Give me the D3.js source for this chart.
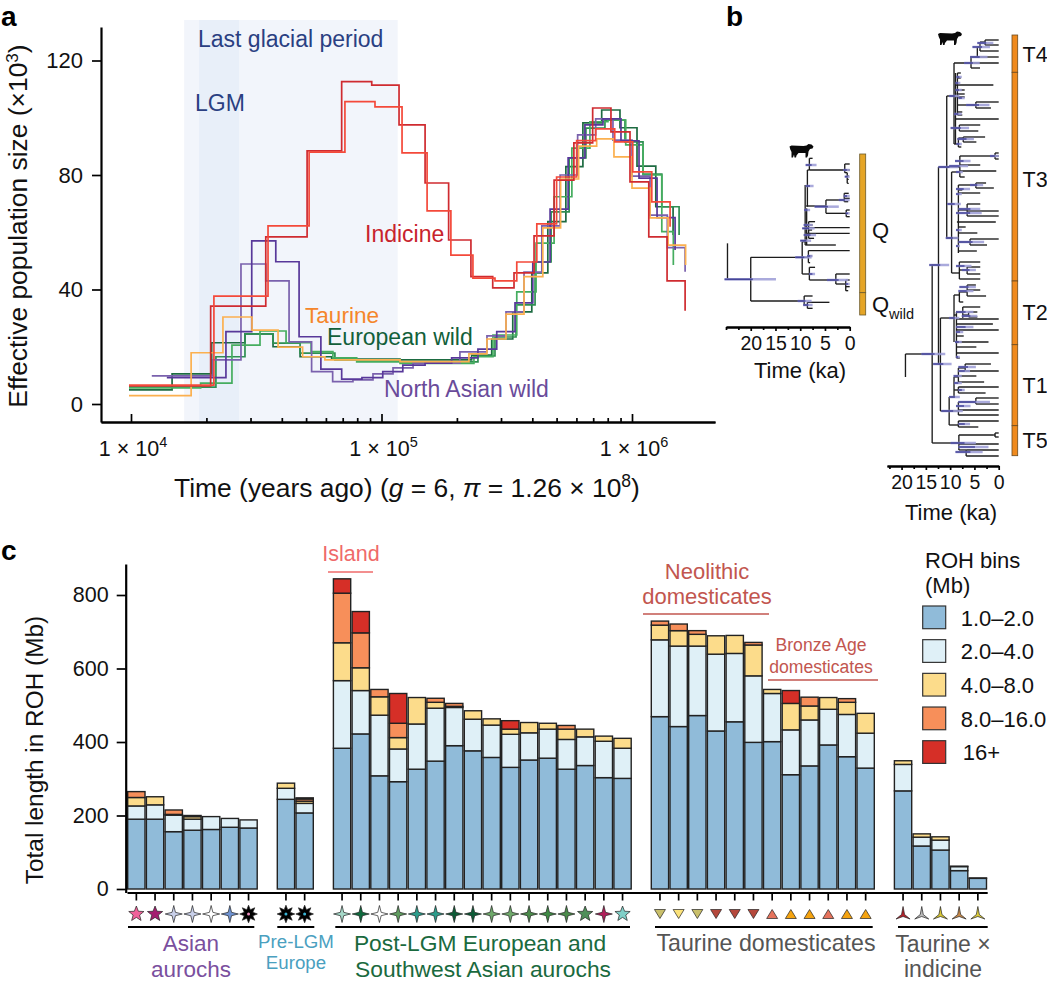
<!DOCTYPE html>
<html>
<head>
<meta charset="utf-8">
<script src="https://d3js.org/d3.v7.min.js"></script>
<style>
  html, body { margin: 0; padding: 0; background: #fff; }
  svg { display: block; }
  text { font-family: "Liberation Sans", Arial, sans-serif; fill: #111; }
</style>
</head>
<body>
<svg id="chart" width="1047" height="981"></svg>
<script>
// -------------------------------
// Panel a data: log10(years ago) and Ne (x 10^3) for each PSMC curve
// -------------------------------
const indicineDarkT = [3.992,4.318,4.538,4.703,4.841,4.961,5.070,5.174,5.268,5.357,5.444,5.529,5.609,5.689,5.768,5.843,5.916,5.992,6.067,6.140,6.212];
const indicineDarkNe = [6.3,34.2,58.4,88.4,112.6,111.4,97.5,77.2,57.3,44.5,40.6,45.8,58.7,78.2,91.2,103.4,95.1,77.6,58.4,43.0,32.6];
const indicineLightT = [3.992,4.331,4.547,4.711,4.854,4.974,5.082,5.182,5.277,5.365,5.453,5.540,5.620,5.699,5.779,5.855,5.931,6.003,6.079,6.152];
const indicineLightNe = [6.6,37.7,62.2,88.0,105.6,103.8,87.7,67.5,52.0,44.0,43.0,49.6,62.9,79.3,92.0,96.1,91.6,81.1,70.6,61.9];
const taurineT = [3.992,4.240,4.367,4.483,4.587,4.685,4.774,5.074,5.273,5.349,5.421,5.497,5.569,5.644,5.715,5.787,5.859,5.928,6.000,6.072,6.144,6.214];
const taurineNe = [2.9,17.9,30.4,25.8,19.9,16.5,15.4,14.8,14.8,17.5,22.7,31.4,44.5,61.5,78.6,90.1,92.6,86.3,75.4,65.0,55.5,48.6];
const euroDarkT = [3.992,4.164,4.322,4.455,4.567,4.675,4.801,5.074,5.360,5.440,5.524,5.600,5.664,5.736,5.804,5.879,5.952,6.020,6.095,6.164];
const euroDarkNe = [4.9,10.5,21.4,24.5,20.0,16.5,15.7,15.4,17.1,22.7,32.2,45.8,63.7,82.9,98.2,102.7,96.5,83.1,68.9,59.0];
const euroMidT = [3.992,4.339,4.455,4.567,4.675,4.814,5.074,5.385,5.453,5.537,5.613,5.677,5.749,5.816,5.892,5.972,6.044,6.119,6.188];
const euroMidNe = [5.9,16.5,24.5,21.3,17.8,15.4,14.7,16.8,23.4,34.6,49.6,67.1,86.0,96.4,99.2,91.6,80.3,68.9,59.0];
const euroLightT = [3.992,4.278,4.403,4.515,4.619,4.719,4.806,4.901,5.074,5.369,5.445,5.540,5.617,5.689,5.760,5.832,5.904,5.975,6.044,6.119,6.165];
const euroLightNe = [5.6,7.3,20.6,25.5,21.4,18.3,16.1,14.7,14.2,16.5,24.1,39.2,56.2,72.4,89.4,98.6,99.2,90.5,80.0,60.2,48.6];
const asianDarkT = [4.143,4.379,4.482,4.578,4.671,4.758,4.841,4.922,5.005,5.085,5.174,5.280,5.385,5.460,5.533,5.604,5.673,5.745,5.812,5.884,5.956,6.028,6.100,6.172];
const asianDarkNe = [9.2,25.3,57.0,49.7,23.5,12.2,8.7,9.2,11.3,13.6,14.3,16.1,19.2,25.3,35.3,49.6,68.1,86.0,97.5,99.6,91.9,78.9,65.1,53.8];
const asianLightT = [4.083,4.327,4.439,4.538,4.631,4.721,4.805,4.886,4.966,5.046,5.126,5.313,5.421,5.497,5.569,5.640,5.713,5.783,5.855,5.924,6.000,6.072,6.141,6.212];
const asianLightNe = [9.8,15.4,48.9,43.0,21.7,11.3,7.8,8.4,10.5,12.6,14.3,18.2,23.8,32.2,46.1,62.2,80.0,94.0,99.6,92.2,79.6,66.0,54.6,46.2];

const psmcCurves = [
  { t: euroDarkT, ne: euroDarkNe, color: "#1d6b41" },
  { t: euroMidT, ne: euroMidNe, color: "#2f8f52" },
  { t: euroLightT, ne: euroLightNe, color: "#45ad5f" },
  { t: asianLightT, ne: asianLightNe, color: "#7a61ad" },
  { t: asianDarkT, ne: asianDarkNe, color: "#58389a" },
  { t: taurineT, ne: taurineNe, color: "#fbb04f" },
  { t: indicineDarkT, ne: indicineDarkNe, color: "#cf2b30" },
  { t: indicineLightT, ne: indicineLightNe, color: "#f4493a" },
];
const lastGlacial = [16300, 116000];
const lgm = [18700, 27000];
const neTicks = [0, 40, 80, 120];

// -------------------------------
// Panel b data: [fromKa, toKa, row] branches, [ka, row0, row1] joins, [hiKa, loKa, row] CI bars
// -------------------------------
const treeQBranches = [
  [24.7,20,448],[20,9.6,382],[20,9.2,513],[9.2,7.5,498],[9.2,8.55,525],[8.55,4.1,517],[8.55,7.5,535],
  [9.6,8.7,335],[9.6,8.15,432],[8.15,7,412],[8.15,2.8,450],[2.8,0,432],[2.8,0.8,462],[0.8,0,450],[0.8,0,470],[0.8,0.3,482],
  [9.6,8.35,382],[8.35,0,362],[8.35,7.6,378],[8.35,8,398],
  [9,2.8,345],[8.7,0,293],[8.7,0,310],[8.3,7,275],[8.3,7.5,285],[8.3,7.2,325],[8.3,7.6,300],
  [8.55,8.15,120],[8.15,7.5,85],[8.15,1,120],[1,0,102],[1,0,120],[1,0.5,128],[0.5,0.2,138],[0.5,0.2,148],[0.5,0.2,160],
  [8.8,4.8,228],[4.8,1.1,210],[1.1,0.2,190],[1.1,0,205],[1.1,0.3,215],[4.8,0.7,250],[0.7,0,240],[0.7,0,260],
];
const treeQJoins = [
  [24.7,340,448],[20,382,513],[9.2,498,525],[8.55,517,535],[9.6,335,432],[8.15,412,450],[2.8,432,462],[0.8,450,482],
  [8.35,362,398],[9,165,345],[8.7,235,345],[8.3,275,325],[8.55,120,230],[8.15,85,120],[1,102,128],[0.5,128,160],
  [4.8,210,250],[1.1,190,215],[0.7,240,260],
];
const treeQCi = [
  [25.3,14.9,448],[11,7.7,382],[10.5,7.7,513],[8.9,6.7,105],[8.9,7.3,168],[9.2,8,240],[7.1,2.2,230],[2.2,0,210],
  [1.3,0,120],[9.6,7.1,295],[9.3,7.5,285],[9.3,6.8,315],[10,7.8,332],[8.6,7.5,378],[8.2,7,432],[4.6,0.3,450],
  [9.4,7.5,525],[0.8,0,250],[0.8,0,462],[1,0,140],[1.2,0,198],
];
const treeTBranches = [
  [19.2,13.7,334],[13.7,12.4,245],[12.4,12,344],[12.4,10.7,147],[10.7,9.2,76],
  [9.2,0,43],[5.7,4.4,37],[5.7,3.85,48],[4.4,0,37],[4.4,3.85,27],[3.85,0,31],[3.85,2.8,22],[2.8,0,20],[2.8,0,25],
  [8.5,7.8,53],[8.5,7.8,58],[8.9,1.1,65],[8.7,7,70],[8.7,7,74],[8.7,7,77],[4.7,0,82],[4.7,1.6,88],[8.5,4.7,85],
  [8.5,7.5,92],[8.5,7.5,95],[8.9,0,99],[8.9,8.1,108],[8.1,3.8,105],[8.1,4.2,111],
  [9.2,8.3,124],[8.3,7.3,118],[7.3,2.8,117],[7.3,4.6,122],[8.3,7.7,127],
  [10.7,8,147],[8,1.7,136],[1.7,0.75,136],[0.75,0,133],[0.75,0,136],[0.75,0,139],[8,3.8,145],[8,0.5,151],[8,7,157],
  [10.7,8.3,218],[9.7,8.3,152],
  [8.3,4.7,165],[4.7,2.6,163],[4.7,1,168],[8.3,7.5,170],[8.3,3.8,173],[8.3,6.5,190],[6.5,3.8,184],[6.5,0,191],[6.5,0,196],
  [8.6,0.6,202],[8.3,6.8,207],[8.3,4.4,213],[8.3,5.9,222],[5.9,0,219],[5.9,2.4,225],[8.3,4.5,231],
  [9.7,8.1,253],[8.1,3.8,242],[8.1,6.5,250],[6.5,3.8,247],[6.5,3.8,254],[8.1,3.8,259],
  [12,9.2,298],[9.2,8.1,275],[8.1,6.5,272],[6.5,4.7,265],[6.5,3.8,270],[6.5,2.6,276],[8.1,7.3,282],
  [9.2,8.7,295],[8.7,7.4,292],[7.4,3.8,287],[7.4,6.2,295],[6.2,4.4,292],[6.2,4.4,297],[8.7,0,299],
  [8.7,1.2,304],[8.7,0,310],[8.7,7.2,316],[8.7,2.1,322],[8.7,4.6,327],[8.7,0,333],[8.7,8,338],
  [12,10.2,391],[10.2,9.2,377],[9.2,8.3,357],[8.3,6.9,348],[6.9,1.6,344],[6.9,0,351],[8.3,4.6,356],[8.3,3,362],
  [9.2,8.3,370],[8.3,0,367],[8.3,2.7,373],
  [10.2,8.3,391],[8.3,4.7,382],[4.7,0,378],[4.7,0,384],[8.3,0,390],[8.3,0,395],[8.3,0,401],[10.2,8.3,405],[8.3,4.2,407],
  [13.7,8.2,423],[8.2,1,415],[1,0.75,415],[0.75,0,413],[0.75,0,417],[8.2,0,424],[8.2,6.7,430],[6.7,0,430],[6.7,0,436],
];
const treeTJoins = [
  [19.2,334,357],[13.7,245,423],[12.4,147,344],[12,298,391],[10.7,76,218],[9.2,43,124],[5.7,37,48],[4.4,27,37],
  [3.85,22,31],[2.8,20,25],[8.9,53,124],[8.5,53,95],[4.7,82,88],[8.1,105,111],[8.3,118,127],[7.3,117,122],
  [8,136,157],[0.75,133,139],[9.7,152,253],[8.3,165,233],[4.7,163,168],[6.5,184,196],[5.9,219,225],
  [8.1,242,259],[6.5,247,254],[9.2,275,322],[8.1,272,282],[6.5,265,276],[8.7,292,338],[7.4,287,298],[6.2,292,297],
  [10.2,377,405],[9.2,357,377],[8.3,348,362],[6.9,344,351],[8.3,367,373],[8.3,382,395],[4.7,378,384],[8.3,401,407],
  [8.2,415,430],[0.75,413,417],[6.7,430,436],
];
const treeTCi = [
  [15.9,11,334],[13.5,9.7,344],[12.4,8.3,147],[10.2,8.1,76],[10.9,8.3,218],[7.1,3.9,43],[14.3,10.2,245],
  [9.9,4.7,423],[8.3,2.1,427],[8.9,3.3,432],[4.4,1.1,23],[5.4,1.8,27],[5.9,2.3,37],[8.7,7.6,57],[8.9,7.9,63],
  [8.9,7.6,70],[8.3,7,78],[6.7,1.9,85],[9.2,7.6,94],[9.9,6.1,108],[8.5,5.1,119],[8.7,7.6,124],[1.8,0,136],
  [9,5.8,141],[10.2,6.3,146],[8.8,7.4,152],[5.9,3.2,165],[8.8,5.9,169],[8.8,7.6,174],[10.6,7.8,184],[8.3,3.8,189],
  [8.8,3.5,193],[8.8,7.6,210],[8.3,3,222],[8.8,8,226],[8.8,5.6,246],[7.6,4.7,250],[8.1,4.7,267],[8.3,5.2,271],
  [8.8,5.2,292],[7.6,4.4,296],[10.2,8.1,298],[8.8,5.2,307],[8.8,7.3,312],[9,7.6,322],[8.8,8,337],[8.3,4.7,347],
  [8.3,5.9,351],[9.3,7.6,356],[9.2,7.6,363],[8.3,7,370],[10.2,8,377],[8.3,1.8,382],[8.8,5.8,386],[11.8,7.4,391],[8.3,5.9,404],
];
const kaTicks = [0, 5, 10, 15, 20];
const kaMinorTicks = [2.5, 7.5, 12.5, 17.5, 22.5, 25];

// -------------------------------
// Panel c data: one entry per bar, Mb of ROH in each length bin
// -------------------------------
const sampleSlots = [0,1,2,3,4,5,6,8,9,11,12,13,14,15,16,17,18,19,20,21,22,23,24,25,26,28,29,30,31,32,33,34,35,36,37,38,39,41,42,43,44,45];
const roh1to2 = [190,190,156,160,162,168,166,244,207,383,422,308,292,326,348,390,376,358,331,351,356,326,336,303,301,469,442,472,430,455,399,401,311,335,392,360,329,267,117,106,50,29];
const roh2to4 = [36,39,45,30,35,24,22,30,26,184,118,165,89,123,144,104,86,88,90,74,79,81,78,99,82,209,219,189,209,186,181,131,122,125,97,115,95,72,24,27,11,1];
const roh4to8 = [23,22,2,7,0,0,0,14,6,103,62,50,31,72,16,3,23,17,14,28,16,28,21,14,27,40,42,32,50,49,84,11,72,38,32,33,54,10,9,9,1,0];
const roh8to16 = [16,0,12,3,0,0,0,0,6,135,95,20,39,0,11,8,0,0,0,0,0,10,0,0,0,11,18,10,0,0,7,0,0,24,0,10,0,0,0,0,0,0];
const roh16plus = [0,0,0,0,0,0,0,0,3,39,58,0,81,0,0,0,0,0,23,0,0,0,0,0,0,0,0,0,0,0,0,0,35,0,0,0,0,0,0,0,0,0];
const rohLabels = ["1.0–2.0", "2.0–4.0", "4.0–8.0", "8.0–16.0", "16+"];
const rohColors = ["#90bbd9", "#dff0f7", "#fcdc8b", "#f78f5a", "#d62f27"];
const rohTicks = [0, 200, 400, 600, 800];

// marker under each bar, same order as sampleSlots
const markerShapes = ["star","star","spark","spark","spark","spark","burst","burst","burst",
  "spark","spark","spark","spark","spark","spark","spark","spark","spark","spark","spark","spark","spark","star","spark","star",
  "down","down","down","down","down","down","up","up","up","up","up","up",
  "tri","tri","tri","tri","tri"];
const markerColors = ["#f0619a","#a41f70","#c9d0ea","#c9d0ea","#ffffff","#6f93d2","#ee8fc0","#39b5d6","#39b5d6",
  "#a5d8c8","#0f6b3e","#ffffff","#5f9c5f","#2b9c8b","#2b9c8b","#0c5a36","#0c5a36","#6fa96b","#6fa96b","#4b8b4b","#3f8a45","#4b8b4b","#4f8f5a","#b01e5a","#80d0c8",
  "#c9bf6a","#fbe27a","#c9bf6a","#b5483c","#b5483c","#b5483c","#e6735c","#f5a30f","#f5a30f","#e6735c","#f5a30f","#f5a30f",
  "#b3202a","#bbbbbb","#d9c832","#c98a4a","#dccb3a"];

// -------------------------------
// Setup
// -------------------------------
const svg = d3.select("#chart");

function addText(parent, str, x, y, size, color, anchor = "start") {
  return parent.append("text")
    .attr("x", x).attr("y", y)
    .attr("font-size", size)
    .attr("text-anchor", anchor)
    .style("fill", color)
    .text(str);
}

function styleAxis(g, width) {
  g.selectAll("path.domain").attr("stroke", "#000").attr("stroke-width", width);
  g.selectAll(".tick line").attr("stroke", "#000").attr("stroke-width", 1.7);
}

addText(svg, "a", 1, 25.5, 28, "#000").attr("font-weight", "bold");
addText(svg, "b", 726, 25.5, 28, "#000").attr("font-weight", "bold");
addText(svg, "c", 1, 560, 28, "#000").attr("font-weight", "bold");

// -------------------------------
// Panel a
// -------------------------------
const xYears = d3.scaleLog().domain([1e4, 1e6]).range([131, 632]);
const xA = xYears.copy().domain([xYears.invert(101), xYears.invert(715)]).range([101, 715]);
const yNe = d3.scaleLinear().domain([0, 120]).range([404, 60.5]);
const yA = yNe.copy().domain([yNe.invert(422), yNe.invert(27)]).range([422, 27]);

const panelA = svg.append("g");

// glacial shading
const shadeTop = 20;
panelA.append("rect")
  .attr("x", xA(lastGlacial[0])).attr("width", xA(lastGlacial[1]) - xA(lastGlacial[0]))
  .attr("y", shadeTop).attr("height", yA.range()[0] - shadeTop)
  .attr("fill", "#f2f5fb");
panelA.append("rect")
  .attr("x", xA(lgm[0])).attr("width", xA(lgm[1]) - xA(lgm[0]))
  .attr("y", shadeTop).attr("height", yA.range()[0] - shadeTop)
  .attr("fill", "#e8eff9");

// step curves
const stepLine = d3.line()
  .x((d) => xA(Math.pow(10, d[0])))
  .y((d) => yA(d[1]))
  .curve(d3.curveStepAfter);

panelA.selectAll("path.psmc")
  .data(psmcCurves)
  .join("path")
  .attr("class", "psmc")
  .attr("d", (d) => stepLine(d3.zip(d.t, d.ne)))
  .attr("fill", "none")
  .attr("stroke", (d) => d.color)
  .attr("stroke-width", 1.7);

// axes
const majorYears = [1e4, 1e5, 1e6];
const minorYears = [2e4,3e4,4e4,5e4,6e4,7e4,8e4,9e4,2e5,3e5,4e5,5e5,6e5,7e5,8e5,9e5];
panelA.append("g")
  .attr("transform", `translate(0,${yA.range()[0]})`)
  .call(d3.axisBottom(xA).tickValues(minorYears).tickSize(-4).tickSizeOuter(0).tickFormat(""))
  .call(styleAxis, 2.2);
panelA.append("g")
  .attr("transform", `translate(0,${yA.range()[0]})`)
  .call(d3.axisBottom(xA).tickValues(majorYears).tickSize(-8).tickSizeOuter(0).tickFormat(""))
  .call(styleAxis, 2.2);
majorYears.forEach((v) => {
  const t = addText(panelA, "1 × 10", xA(v) + 2, 456, 21.5, "#111", "middle");
  t.append("tspan").attr("dy", -9).attr("font-size", 14.5).text(Math.log10(v));
});

panelA.append("g")
  .attr("transform", "translate(101,0)")
  .call(d3.axisLeft(yA).tickValues(neTicks).tickSize(9).tickSizeOuter(0).tickPadding(9))
  .call(styleAxis, 2.2)
  .selectAll("text").attr("font-size", 22).style("fill", "#111");

const yLabelA = panelA.append("text")
  .attr("transform", "translate(27,226) rotate(-90)")
  .attr("text-anchor", "middle")
  .attr("font-size", 26.4)
  .text("Effective population size (×10");
yLabelA.append("tspan").attr("dy", -9).attr("font-size", 17).text("3");
yLabelA.append("tspan").attr("dy", 9).text(")");

const xLabelA = panelA.append("text")
  .attr("x", 407).attr("y", 497)
  .attr("text-anchor", "middle")
  .attr("font-size", 26.4)
  .text("Time (years ago) (");
xLabelA.append("tspan").attr("font-style", "italic").text("g");
xLabelA.append("tspan").text(" = 6, ");
xLabelA.append("tspan").attr("font-style", "italic").text("π");
xLabelA.append("tspan").text(" = 1.26 × 10");
xLabelA.append("tspan").attr("dy", -10).attr("font-size", 17.5).text("8");
xLabelA.append("tspan").attr("dy", 10).text(")");

addText(panelA, "Last glacial period", 198, 47, 23, "#2a3f82");
addText(panelA, "LGM", 195, 111, 23, "#2a3f82");
addText(panelA, "Indicine", 365, 242, 23, "#c8232c");
addText(panelA, "Taurine", 305, 323, 22.6, "#f5862b");
addText(panelA, "European wild", 327, 345, 23, "#12603a");
addText(panelA, "North Asian wild", 384, 397, 23, "#6a4b9a");

// -------------------------------
// Panel b
// -------------------------------
function drawTree(opts) {
  const { x, row, branches, joins, ci, axisY, label } = opts;
  const g = svg.append("g");

  g.selectAll("line.h").data(branches).join("line")
    .attr("x1", (d) => x(d[0])).attr("x2", (d) => x(d[1]))
    .attr("y1", (d) => row(d[2])).attr("y2", (d) => row(d[2]))
    .attr("stroke", "#1c1c1c").attr("stroke-width", 1.35);
  g.selectAll("line.v").data(joins).join("line")
    .attr("x1", (d) => x(d[0])).attr("x2", (d) => x(d[0]))
    .attr("y1", (d) => row(d[1])).attr("y2", (d) => row(d[2]))
    .attr("stroke", "#1c1c1c").attr("stroke-width", 1.35);

  // CI bars are pale at the ends and dark around the node
  g.selectAll("line.ci").data(ci).join("line")
    .attr("x1", (d) => x(d[0])).attr("x2", (d) => x(d[1]))
    .attr("y1", (d) => row(d[2])).attr("y2", (d) => row(d[2]))
    .attr("stroke", "#9b9bd6").attr("stroke-opacity", 0.85).attr("stroke-width", 2.5);
  g.selectAll("line.cimid").data(ci).join("line")
    .attr("x1", (d) => x(d[0])).attr("x2", (d) => x(d[0] - (d[0] - d[1]) * 0.55))
    .attr("y1", (d) => row(d[2])).attr("y2", (d) => row(d[2]))
    .attr("stroke", "#3a3a92").attr("stroke-opacity", 0.85).attr("stroke-width", 1.6);

  // time axis with ticks hanging below
  const maxKa = x.domain()[1];
  g.append("g")
    .attr("transform", `translate(0,${axisY})`)
    .call(d3.axisBottom(x).tickValues(kaMinorTicks.filter((k) => k <= maxKa)).tickSize(3).tickSizeOuter(0).tickFormat(""))
    .call(styleAxis, 2);
  g.append("g")
    .attr("transform", `translate(0,${axisY})`)
    .call(d3.axisBottom(x).tickValues(kaTicks).tickSize(4).tickSizeOuter(0).tickPadding(5.5))
    .call(styleAxis, 2)
    .selectAll("text").attr("font-size", 19.5).style("fill", "#111");
  addText(g, "Time (ka)", label[0], label[1], 22, "#111", "middle");
}

function drawCow(x, y) {
  svg.append("path")
    .attr("transform", `translate(${x},${y})`)
    .attr("d", "M0,3 L2,2 L14,2.5 L17,2 L19,0.5 L22,1 L24,3 L23,5 L20.5,5.5 L19,8 L18.5,12 L17.5,14 L16,14 L16,9.5 L9,9.5 L7,12 L6.5,14 L5,14 L4.5,11 L3.5,14 L2,14 L2,8.5 L0.8,6 Z")
    .attr("fill", "#0a0a0a");
}

const kaQ = d3.scaleLinear().domain([0, 25]).range([849.7, 726]);
const rowQ = d3.scaleLinear().domain([0, 780]).range([130, 390]);
drawTree({ x: kaQ, row: rowQ, branches: treeQBranches, joins: treeQJoins, ci: treeQCi, axisY: 327, label: [800, 378] });
drawCow(789.5, 143.5);

const kaT = d3.scaleLinear().domain([0, 23]).range([998.7, 887]);
const rowT = d3.scaleLinear().domain([0, 440]).range([20, 460]);
drawTree({ x: kaT, row: rowT, branches: treeTBranches, joins: treeTJoins, ci: treeTCi, axisY: 466, label: [951, 520] });
drawCow(938, 31);

// clade bars: start row, end row, label, label baseline
const cladeQ = [[154, 292.7], [292.7, 315]];
const cladeT = [[35, 72.3, "T4", 62], [72.3, 281, "T3", 187], [281, 344.7, "T2", 320], [344.7, 425.7, "T1", 393], [425.7, 455.7, "T5", 448]];
svg.selectAll("rect.cladeQ").data(cladeQ).join("rect")
  .attr("x", 859.7).attr("width", 6).attr("y", (d) => d[0]).attr("height", (d) => d[1] - d[0])
  .attr("fill", "#e5a526").attr("stroke", "#6b5a2c").attr("stroke-width", 0.8);
svg.selectAll("rect.cladeT").data(cladeT).join("rect")
  .attr("x", 1012).attr("width", 5.7).attr("y", (d) => d[0]).attr("height", (d) => d[1] - d[0])
  .attr("fill", "#f08a1d").attr("stroke", "#6b4a20").attr("stroke-width", 0.8);
addText(svg, "Q", 872, 238, 22, "#111");
addText(svg, "Q", 872, 312, 22, "#111");
addText(svg, "wild", 889, 319, 14.5, "#111");
svg.selectAll("text.cladeLabel").data(cladeT).join("text")
  .attr("class", "cladeLabel")
  .attr("x", 1022.5)
  .attr("y", (d) => d[3])
  .attr("font-size", 21.5)
  .text((d) => d[2]);

// -------------------------------
// Panel c
// -------------------------------
const rohKeys = ["a", "b", "c", "d", "e"];
const rohRows = sampleSlots.map((slot, i) => ({
  slot, marker: markerShapes[i], color: markerColors[i],
  a: roh1to2[i], b: roh2to4[i], c: roh4to8[i], d: roh8to16[i], e: roh16plus[i],
}));
const stacked = d3.stack().keys(rohKeys)(rohRows);

const xBar = d3.scaleBand().domain(d3.range(46)).range([127, 987.2]).paddingInner(0.075).paddingOuter(0.0375);
const yRoh = d3.scaleLinear().domain([0, 800]).range([889, 595]);

const panelC = svg.append("g");

panelC.selectAll("g.layer")
  .data(stacked)
  .join("g")
  .attr("fill", (d, i) => rohColors[i])
  .selectAll("rect")
  .data((d) => d.filter((s) => s[1] > s[0]))
  .join("rect")
  .attr("x", (d) => xBar(d.data.slot))
  .attr("width", xBar.bandwidth())
  .attr("y", (d) => yRoh(d[1]))
  .attr("height", (d) => yRoh(d[0]) - yRoh(d[1]))
  .attr("stroke", "#222")
  .attr("stroke-width", 1.4);

// axes
panelC.append("g")
  .attr("transform", "translate(0,892.5)")
  .call(d3.axisBottom(xBar).tickValues(sampleSlots).tickSize(8).tickSizeOuter(0).tickFormat(""))
  .call(styleAxis, 2.2);
const yAxisC = d3.scaleLinear().domain([yRoh.invert(892.5), yRoh.invert(564)]).range([892.5, 564]);
panelC.append("g")
  .attr("transform", "translate(125.7,0)")
  .call(d3.axisLeft(yAxisC).tickValues(rohTicks).tickSize(9).tickSizeOuter(0).tickPadding(8))
  .call(styleAxis, 2.2)
  .selectAll("text").attr("font-size", 21.5).style("fill", "#111");

panelC.append("text")
  .attr("transform", "translate(43,750) rotate(-90)")
  .attr("text-anchor", "middle")
  .attr("font-size", 24.4)
  .text("Total length in ROH (Mb)");

// bar markers
function spikyPath(points, outer, inner, rotate = 0) {
  const coords = d3.range(points * 2).map((i) => {
    const r = i % 2 === 0 ? outer : inner;
    const a = rotate + (i * Math.PI) / points;
    return [r * Math.sin(a), -r * Math.cos(a)];
  });
  return d3.line()(coords) + "Z";
}
const markerPaths = {
  star: spikyPath(5, 8, 3.4),
  spark: spikyPath(4, 8.5, 2.4),
  burst: spikyPath(8, 8.8, 4.6),
  down: d3.line()([[-5.5, -4.5], [5.5, -4.5], [0, 4.5]]) + "Z",
  up: d3.line()([[-5.5, 4.5], [5.5, 4.5], [0, -4.5]]) + "Z",
  tri: "M0,-7.5 L1.5,0.5 L7,5 L0,2.5 L-7,5 L-1.5,0.5 Z",
};
const markerRows = panelC.selectAll("g.marker")
  .data(rohRows)
  .join("g")
  .attr("transform", (d) => `translate(${xBar(d.slot) + xBar.bandwidth() / 2},914)`);
markerRows.append("path")
  .attr("d", (d) => markerPaths[d.marker])
  .attr("fill", (d) => (d.marker === "burst" ? "#000" : d.color))
  .attr("stroke", "#222")
  .attr("stroke-width", 0.7);
markerRows.filter((d) => d.marker === "burst").append("circle")
  .attr("r", 1.5)
  .attr("fill", (d) => d.color);

// group brackets and labels
const groupBrackets = [[128, 254.3], [277.3, 314.3], [335.3, 630], [655, 872.7], [898, 987.7]];
panelC.selectAll("line.bracket").data(groupBrackets).join("line")
  .attr("x1", (d) => d[0]).attr("x2", (d) => d[1])
  .attr("y1", 927).attr("y2", 927)
  .attr("stroke", "#000").attr("stroke-width", 2);

addText(panelC, "Asian", 191, 951, 22.5, "#7a4f9e", "middle");
addText(panelC, "aurochs", 191, 976.5, 22.5, "#7a4f9e", "middle");
addText(panelC, "Pre-LGM", 296, 948, 18.7, "#4aa0bf", "middle");
addText(panelC, "Europe", 296, 969, 18.7, "#4aa0bf", "middle");
addText(panelC, "Post-LGM European and", 480, 951, 22.8, "#1a6a3e", "middle");
addText(panelC, "Southwest Asian aurochs", 483, 976.5, 22.8, "#1a6a3e", "middle");
addText(panelC, "Taurine domesticates", 766, 951, 23.2, "#555", "middle");
addText(panelC, "Taurine ×", 943, 952, 23, "#555", "middle");
addText(panelC, "indicine", 943, 976.5, 23, "#555", "middle");

addText(panelC, "Island", 351, 561, 21.5, "#ef6a6a", "middle");
panelC.append("line").attr("x1", 328).attr("x2", 373).attr("y1", 572).attr("y2", 572)
  .attr("stroke", "#ef6a6a").attr("stroke-width", 1.6);
addText(panelC, "Neolithic", 707, 579, 22, "#c2564f", "middle");
addText(panelC, "domesticates", 707, 604, 22, "#c2564f", "middle");
panelC.append("line").attr("x1", 643).attr("x2", 769).attr("y1", 614).attr("y2", 614)
  .attr("stroke", "#c2564f").attr("stroke-width", 1.6);
addText(panelC, "Bronze Age", 821, 651, 17.6, "#c2564f", "middle");
addText(panelC, "domesticates", 821, 673, 17.6, "#c2564f", "middle");
panelC.append("line").attr("x1", 768).attr("x2", 878).attr("y1", 680).attr("y2", 680)
  .attr("stroke", "#c2564f").attr("stroke-width", 1.6);

// legend
addText(panelC, "ROH bins", 925, 568, 22, "#111");
addText(panelC, "(Mb)", 925, 593, 22, "#111");
const legendRow = d3.scaleLinear().domain([0, 4]).range([606, 740.7]);
const legend = panelC.selectAll("g.legend")
  .data(rohLabels)
  .join("g")
  .attr("transform", (d, i) => `translate(922.7,${legendRow(i)})`);
legend.append("rect")
  .attr("width", 23).attr("height", 22.7)
  .attr("fill", (d, i) => rohColors[i])
  .attr("stroke", "#333")
  .attr("stroke-width", 1.2);
legend.append("text")
  .attr("x", (d, i) => (i === 4 ? 40 : 38)).attr("y", 19.5)
  .attr("font-size", 22)
  .text((d) => d);
</script>
</body>
</html>
